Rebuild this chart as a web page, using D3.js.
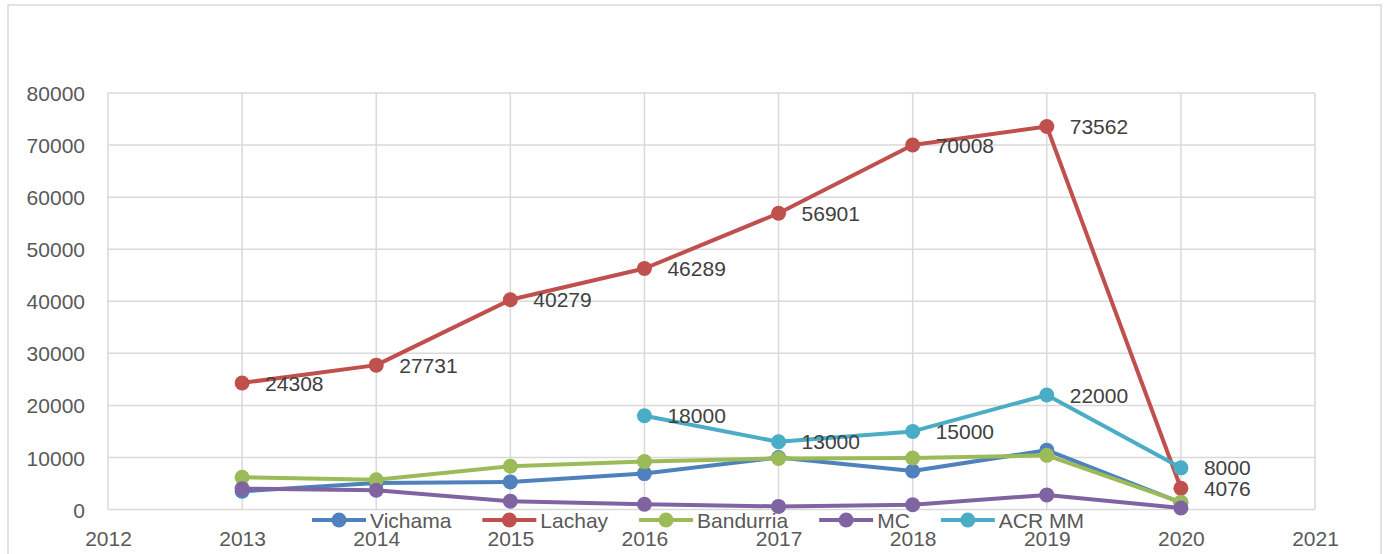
<!DOCTYPE html>
<html>
<head>
<meta charset="utf-8">
<script src="https://cdn.jsdelivr.net/npm/d3@7"></script>
<style>
    body { margin: 0; background: #fff; }
    text { font-family: "Liberation Sans", Arial, sans-serif; }
    .grid line { stroke: #d9d9d9; stroke-width: 1.5px; }
    .tick text { fill: #595959; font-size: 21px; }
    .lbl { fill: #404040; font-size: 21px; }
    .leg { fill: #595959; font-size: 21px; }
</style>
</head>
<body>
<script>

    // data
    var years = [2013, 2014, 2015, 2016, 2017, 2018, 2019, 2020];
    var vichama   = [3500, 5100, 5300, 6900, 10000, 7400, 11400, 1300];
    var lachay    = [24308, 27731, 40279, 46289, 56901, 70008, 73562, 4076];
    var bandurria = [6200, 5700, 8300, 9200, 9800, 9900, 10400, 1400];
    var mc        = [4000, 3700, 1600, 1000, 600, 900, 2800, 300];
    var acrmm     = [null, null, null, 18000, 13000, 15000, 22000, 8000];
    var seriesNames  = ["Vichama", "Lachay", "Bandurria", "MC", "ACR MM"];
    var seriesColors = ["#4f81bd", "#c0504d", "#9bbb59", "#8064a2", "#4bacc6"];
    var labelled = [false, true, false, false, true];
    var xTicks = [2012, 2013, 2014, 2015, 2016, 2017, 2018, 2019, 2020, 2021];
    var yTicks = [0, 10000, 20000, 30000, 40000, 50000, 60000, 70000, 80000];

    var allSeries = [vichama, lachay, bandurria, mc, acrmm];

    var width = 1387, height = 554;
    var plotL = 108, plotR = 1315, plotT = 93, plotB = 509.5;

    var svg = d3.select("body").append("svg")
        .attr("width", width)
        .attr("height", height);

    // chart frame
    svg.append("rect")
        .attr("x", 8).attr("y", 5)
        .attr("width", 1373).attr("height", 600)
        .attr("fill", "#fff")
        .attr("stroke", "#d9d9d9")
        .attr("stroke-width", 1.5);

    var x = d3.scaleLinear().domain([2012, 2021]).range([plotL, plotR]);
    var y = d3.scaleLinear().domain([0, 80000]).range([plotB, plotT]);

    // gridlines
    svg.append("g").attr("class", "grid")
        .selectAll("line").data(yTicks).enter().append("line")
        .attr("x1", plotL).attr("x2", plotR)
        .attr("y1", d => y(d)).attr("y2", d => y(d));
    svg.append("g").attr("class", "grid")
        .selectAll("line").data(xTicks).enter().append("line")
        .attr("x1", d => x(d)).attr("x2", d => x(d))
        .attr("y1", plotT).attr("y2", plotB);

    // axes (labels only, lines come from the grid)
    var yAxis = svg.append("g")
        .attr("transform", `translate(${plotL},0)`)
        .call(d3.axisLeft(y).tickValues(yTicks).tickSize(0).tickPadding(23).tickFormat(d3.format("d")));
    yAxis.select(".domain").remove();
    yAxis.selectAll(".tick text").attr("dy", "0.36em");

    var xAxis = svg.append("g")
        .attr("transform", `translate(0,${plotB})`)
        .call(d3.axisBottom(x).tickValues(xTicks).tickSize(0).tickPadding(22).tickFormat(d3.format("d")));
    xAxis.select(".domain").remove();

    var line = d3.line()
        .x(d => x(d[0]))
        .y(d => y(d[1]));

    // series
    allSeries.forEach(function(vals, i) {
        var pts = years.map((yr, j) => [yr, vals[j]]).filter(d => d[1] != null);
        var g = svg.append("g");
        g.append("path")
            .datum(pts)
            .attr("d", line)
            .attr("fill", "none")
            .attr("stroke", seriesColors[i])
            .attr("stroke-width", 4)
            .attr("stroke-linejoin", "round");
        g.selectAll("circle").data(pts).enter().append("circle")
            .attr("cx", d => x(d[0]))
            .attr("cy", d => y(d[1]))
            .attr("r", 7.5)
            .attr("fill", seriesColors[i]);
    });

    // data labels
    allSeries.forEach(function(vals, i) {
        if (!labelled[i]) return;
        var pts = years.map((yr, j) => [yr, vals[j]]).filter(d => d[1] != null);
        svg.append("g").selectAll("text").data(pts).enter().append("text")
            .attr("class", "lbl")
            .attr("x", d => x(d[0]) + 23)
            .attr("y", d => y(d[1]))
            .attr("dy", "0.36em")
            .text(d => d[1]);
    });

    // legend
    var leg = svg.append("g");
    var cursor = 0, gap = 31;
    seriesNames.forEach(function(name, i) {
        var item = leg.append("g").attr("transform", `translate(${cursor},0)`);
        item.append("line")
            .attr("x1", 0).attr("x2", 54)
            .attr("stroke", seriesColors[i]).attr("stroke-width", 4);
        item.append("circle").attr("cx", 27).attr("r", 7.5).attr("fill", seriesColors[i]);
        var t = item.append("text").attr("class", "leg")
            .attr("x", 58).attr("dy", "0.36em").text(name);
        cursor += 58 + t.node().getComputedTextLength() + gap;
    });
    var legW = cursor - gap;
    leg.attr("transform", `translate(${698 - legW / 2},520)`);

</script>
</body>
</html>
